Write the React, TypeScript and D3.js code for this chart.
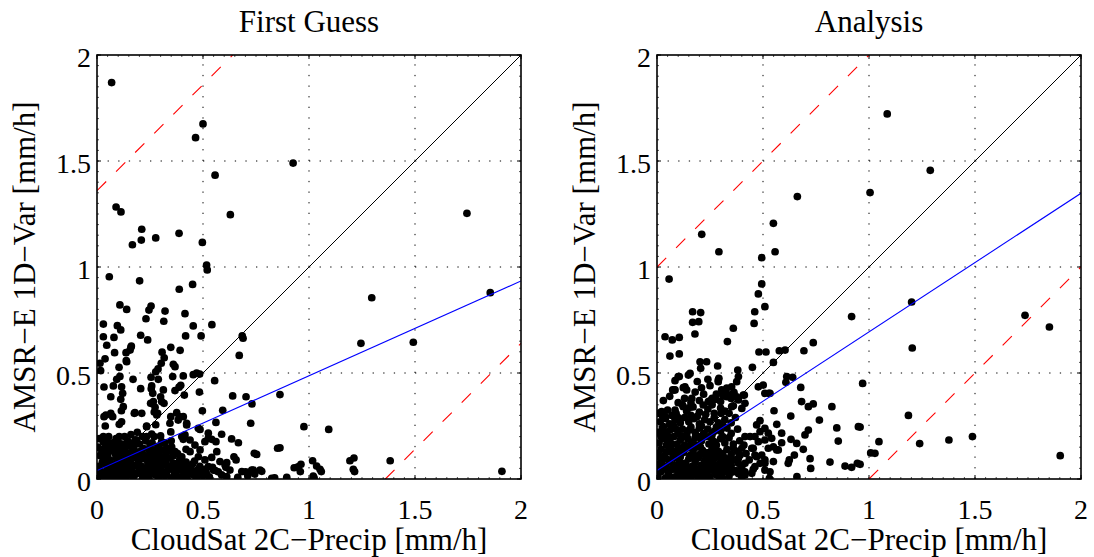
import React from "react";
import * as d3 from "d3";

type P = [number, number];

// ---- data ----
const panelTitles = ["First Guess", "Analysis"];
const xLabel = "CloudSat 2C\u2212Precip [mm/h]";
const yLabel = "AMSR\u2212E 1D\u2212Var [mm/h]";
const tickValues = [0, 0.5, 1, 1.5, 2];
const tickLabels = ["0", "0.5", "1", "1.5", "2"];

// regression lines [intercept, slope]
const fgFit: P = [0.04, 0.447];
const anFit: P = [0.04, 0.654];
// red dashed offsets (y = x ± band)
const fgBand = 1.36;
const anBand = 1.0;

const fgSparse: P[] = [
  [0.069,1.87],[0.50,1.675],[0.465,1.61],[0.925,1.49],[0.557,1.433],[0.09,1.283],[0.113,1.26],[0.629,1.247],
  [0.211,1.178],[0.387,1.159],[0.209,1.127],[0.277,1.137],[0.167,1.105],[0.497,1.116],[0.517,1.009],[0.520,0.986],
  [1.745,1.253],[1.855,0.879],[1.296,0.855],[1.245,0.64],[1.492,0.645],[0.976,0.247],[1.093,0.234],[0.962,0.069],
  [0.959,0.035],[1.017,0.086],[1.036,0.061],[1.052,0.046],[1.02,0.014],[1.193,0.086],[1.212,0.099],[1.209,0.046],
  [1.383,0.086],[1.91,0.036],[0.058,0.954],[0.201,0.935],[0.451,0.918],[0.388,0.895],[0.108,0.821],[0.14,0.80],
  [0.255,0.816],[0.245,0.797],[0.231,0.756],[0.321,0.792],[0.315,0.744],[0.415,0.78],[0.03,0.731],[0.096,0.723],
  [0.112,0.703],[0.454,0.722],[0.542,0.728],[0.03,0.671],[0.08,0.668],[0.206,0.678],[0.239,0.656],[0.418,0.675],
  [0.491,0.675],[0.685,0.675],[0.689,0.664],[0.046,0.631],[0.162,0.627],[0.156,0.608],[0.137,0.596],[0.348,0.621],
  [0.083,0.596],[0.307,0.598],[0.317,0.572],[0.392,0.607],[0.671,0.583],[0.038,0.567],[0.138,0.558],[0.36,0.541],
  [0.368,0.53],[0.014,0.546],[0.017,0.511],[0.303,0.546],[0.288,0.519],[0.277,0.506],[0.104,0.527],[0.108,0.484],
  [0.093,0.47],[0.077,0.439],[0.17,0.47],[0.255,0.48],[0.258,0.439],[0.289,0.47],[0.357,0.483],[0.407,0.486],
  [0.454,0.492],[0.47,0.499],[0.484,0.495],[0.555,0.464],[0.033,0.434],[0.116,0.435],[0.121,0.404],[0.112,0.376],
  [0.206,0.426],[0.256,0.426],[0.263,0.404],[0.313,0.42],[0.30,0.388],[0.305,0.365],[0.316,0.357],[0.368,0.417],
  [0.387,0.433],[0.395,0.442],[0.412,0.396],[0.483,0.41],[0.065,0.388],[0.64,0.392],[0.703,0.388],[0.731,0.354],
  [0.863,0.398],[0.253,0.357],[0.124,0.341],[0.115,0.322],[0.042,0.302],[0.065,0.31],[0.074,0.294],[0.033,0.294],
  [0.179,0.313],[0.211,0.31],[0.27,0.316],[0.282,0.302],[0.348,0.294],[0.376,0.313],[0.388,0.294],[0.497,0.322],
  [0.593,0.324],[0.561,0.267],[0.725,0.263],[0.039,0.25],[0.116,0.27],[0.105,0.258],[0.234,0.25],[0.277,0.256],
  [0.344,0.263],[0.423,0.263],[0.486,0.234],[0.03,0.2],[0.105,0.2],[0.234,0.2],[0.258,0.212],[0.30,0.203],
  [0.348,0.222],[0.407,0.187],[0.439,0.184],[0.525,0.216],[0.541,0.187],[0.561,0.176],[0.588,0.211],[0.635,0.189],
  [0.667,0.171],[0.852,0.145],[0.742,0.121],[0.646,0.105],[0.656,0.09],[0.93,0.053],[0.612,0.077],[0.608,0.055],
  [0.701,0.034],[0.737,0.042],[0.777,0.036],[0.824,0.003],[0.895,0.008],[0.627,0.042],[0.683,0.035],[0.714,0.03],
  [0.73,0.042],[0.769,0.042],[0.664,0.008],[0.4,0.2],[0.415,0.208],[0.462,0.16],[0.486,0.137],[0.509,0.176],
  [0.525,0.192],[0.439,0.129],[0.478,0.105],[0.509,0.09],[0.541,0.102],[0.565,0.129],[0.58,0.082],[0.604,0.066],
  [0.525,0.058],[0.549,0.042],[0.572,0.034],[0.588,0.019],[0.612,0.011],[0.383,0.278],[0.407,0.294],[0.423,0.255],
  [0.478,0.239],[0.274,0.338],[0.286,0.31],[0.266,0.365],[0.176,0.31],[0.234,0.247],[0.305,0.176],[0.03,0.176],
  [0.061,0.168],[0.022,0.137],[0.085,0.152],[0.108,0.16],[0.132,0.145],[0.164,0.168],[0.187,0.184],[0.218,0.145],
  [0.25,0.16],[0.274,0.137],[0.305,0.137],[0.328,0.145],[0.352,0.152],[0.368,0.129],[0.491,0.035],[0.558,0.04],
  [0.711,0.015],[0.744,0.023],[0.838,0.006],[0.753,0.116],[0.863,0.147],[0.948,0.057],[1.058,0.035],[1.024,0.006],
  [1.215,0.035],[0.16,0.621],[0.14,0.553],
];

const fgCluster: P[] = [
  [0.005,0.01],[0.02,0.03],[0.035,0.005],[0.05,0.02],[0.065,0.045],[0.08,0.01],[0.095,0.03],[0.11,0.005],
  [0.125,0.04],[0.14,0.015],[0.155,0.035],[0.17,0.005],[0.185,0.025],[0.2,0.045],[0.215,0.01],[0.23,0.03],
  [0.245,0.005],[0.26,0.04],[0.275,0.02],[0.29,0.005],[0.305,0.035],[0.32,0.015],[0.335,0.045],[0.35,0.005],
  [0.365,0.025],[0.38,0.04],[0.395,0.01],[0.41,0.03],[0.425,0.005],[0.44,0.045],[0.455,0.02],[0.47,0.005],
  [0.485,0.06],[0.5,0.015],[0.515,0.03],[0.53,0.01],[0.545,0.055],[0.01,0.06],[0.025,0.08],[0.045,0.065],
  [0.06,0.09],[0.075,0.07],[0.09,0.1],[0.105,0.075],[0.12,0.06],[0.135,0.09],[0.15,0.07],[0.165,0.1],
  [0.18,0.065],[0.195,0.085],[0.21,0.06],[0.225,0.095],[0.24,0.075],[0.255,0.06],[0.27,0.09],[0.285,0.07],
  [0.3,0.055],[0.315,0.085],[0.33,0.065],[0.345,0.1],[0.36,0.075],[0.375,0.06],[0.39,0.09],[0.405,0.065],
  [0.42,0.08],[0.44,0.06],[0.46,0.085],[0.015,0.11],[0.03,0.13],[0.05,0.115],[0.07,0.135],[0.085,0.12],
  [0.1,0.14],[0.115,0.115],[0.13,0.13],[0.145,0.11],[0.16,0.125],[0.175,0.14],[0.19,0.115],[0.205,0.13],
  [0.22,0.115],[0.235,0.1],[0.25,0.12],[0.265,0.105],[0.28,0.125],[0.295,0.11],[0.31,0.1],[0.325,0.12],
  [0.34,0.135],[0.36,0.11],[0.38,0.12],[0.005,0.15],[0.04,0.16],[0.075,0.17],[0.12,0.165],[0.145,0.18],
  [0.17,0.155],[0.2,0.165],[0.23,0.18],[0.26,0.17],[0.29,0.155],[0.32,0.17],[0.01,0.19],[0.055,0.2],
  [0.09,0.19],[0.13,0.2],[0.16,0.21],[0.19,0.22],[0.005,0.035],[0.045,0.04],[0.085,0.05],[0.165,0.05],
  [0.22,0.045],[0.28,0.05],[0.345,0.05],[0.4,0.048],[0.47,0.04],
  [0.012,0.045],[0.028,0.015],[0.058,0.005],[0.072,0.025],[0.1,0.055],[0.118,0.02],[0.132,0.065],[0.148,0.045],
  [0.178,0.02],[0.192,0.06],[0.208,0.03],[0.238,0.05],[0.252,0.025],[0.268,0.065],[0.298,0.03],[0.312,0.065],
  [0.328,0.03],[0.358,0.045],[0.372,0.01],[0.388,0.065],[0.418,0.05],[0.432,0.025],[0.45,0.07],[0.478,0.025],
  [0.508,0.045],[0.035,0.095],[0.055,0.145],[0.098,0.115],[0.11,0.09],[0.142,0.155],[0.158,0.09],[0.188,0.1],
  [0.212,0.095],[0.245,0.14],[0.262,0.08],[0.3,0.085],[0.33,0.095],[0.355,0.135],[0.4,0.105],[0.42,0.14],
  [0.04,0.185],[0.1,0.175],[0.18,0.185],[0.215,0.2],[0.27,0.2],[0.35,0.18],
];

const anSparse: P[] = [
  [0.211,1.154],[0.292,1.072],[0.494,1.044],[0.557,1.072],[0.549,1.206],[0.662,1.332],[1.005,1.351],[1.086,1.722],
  [1.289,1.456],[1.201,0.835],[1.204,0.618],[1.736,0.772],[1.851,0.717],[0.97,0.451],[1.186,0.3],[0.958,0.245],
  [1.047,0.176],[1.008,0.123],[1.028,0.121],[0.958,0.069],[1.239,0.167],[1.377,0.184],[1.488,0.2],[1.902,0.11],
  [0.057,0.943],[0.494,0.92],[0.478,0.873],[0.509,0.813],[0.461,0.789],[0.458,0.734],[0.168,0.789],[0.206,0.785],
  [0.168,0.739],[0.197,0.742],[0.179,0.684],[0.36,0.711],[0.332,0.648],[0.918,0.766],[0.038,0.671],[0.072,0.656],
  [0.105,0.668],[0.061,0.58],[0.105,0.59],[0.481,0.599],[0.514,0.599],[0.577,0.605],[0.604,0.608],[0.693,0.605],
  [0.737,0.643],[0.549,0.55],[0.203,0.553],[0.234,0.553],[0.206,0.522],[0.286,0.533],[0.381,0.514],[0.45,0.527],
  [0.156,0.498],[0.105,0.483],[0.085,0.464],[0.074,0.42],[0.292,0.475],[0.289,0.459],[0.384,0.483],[0.376,0.459],
  [0.64,0.48],[0.608,0.456],[0.124,0.431],[0.14,0.42],[0.329,0.429],[0.352,0.435],[0.363,0.409],[0.376,0.388],
  [0.412,0.396],[0.501,0.443],[0.678,0.432],[0.311,0.393],[0.527,0.404],[0.164,0.381],[0.25,0.369],[0.277,0.376],
  [0.682,0.365],[0.714,0.341],[0.737,0.354],[0.825,0.341],[0.022,0.318],[0.038,0.294],[0.085,0.325],[0.124,0.341],
  [0.156,0.338],[0.218,0.349],[0.242,0.365],[0.302,0.31],[0.4,0.333],[0.415,0.357],[0.552,0.322],[0.631,0.297],
  [0.766,0.278],[0.95,0.247],[0.848,0.241],[0.855,0.179],[0.565,0.258],[0.486,0.275],[0.47,0.255],[0.714,0.231],
  [0.698,0.208],[0.632,0.187],[0.659,0.168],[0.69,0.14],[0.648,0.113],[0.619,0.074],[0.624,0.09],[0.722,0.096],
  [0.725,0.05],[0.816,0.08],[0.887,0.061],[0.918,0.055],[0.945,0.074],[0.66,0.011],[0.549,0.082],[0.533,0.034],
  [0.53,0.003],[0.588,0.171],[0.565,0.137],[0.525,0.145],[0.509,0.184],[0.486,0.223],[0.439,0.2],[0.454,0.145],
  [0.435,0.09],[0.47,0.105],[0.509,0.074],[0.454,0.046],[0.415,0.034],[0.36,0.034],[0.384,0.074],[0.329,0.055],
  [0.31,0.003],[0.392,0.113],[0.588,0.216],[0.509,0.239],[0.525,0.216],[0.541,0.192],[0.549,0.152],[0.572,0.137],
  [0.462,0.2],[0.478,0.176],[0.447,0.145],[0.462,0.113],[0.494,0.113],[0.509,0.09],[0.486,0.074],[0.462,0.058],
  [0.509,0.042],[0.415,0.2],[0.4,0.145],[0.384,0.098],[0.415,0.074],[0.392,0.042],[0.415,0.019],[0.447,0.027],
  [0.352,0.341],[0.384,0.373],[0.407,0.396],[0.478,0.435],[0.509,0.404],[0.533,0.404],[0.612,0.483],[0.289,0.467],
  [0.305,0.42],[0.329,0.388],[0.36,0.404],[0.148,0.49],[0.1,0.483],[0.085,0.42],[0.132,0.435],[0.014,0.31],
  [0.03,0.247],[0.053,0.2],
];

const anCluster: P[] = [
  [0.005,0.01],[0.02,0.035],[0.04,0.005],[0.055,0.025],[0.07,0.045],[0.085,0.01],[0.1,0.03],[0.115,0.005],
  [0.13,0.04],[0.145,0.02],[0.16,0.005],[0.175,0.035],[0.19,0.015],[0.205,0.045],[0.22,0.005],[0.235,0.03],
  [0.25,0.01],[0.265,0.04],[0.28,0.02],[0.295,0.005],[0.31,0.035],[0.34,0.015],[0.37,0.04],[0.4,0.01],
  [0.01,0.07],[0.025,0.09],[0.04,0.06],[0.06,0.08],[0.075,0.1],[0.09,0.065],[0.105,0.085],[0.12,0.055],
  [0.135,0.075],[0.15,0.095],[0.165,0.06],[0.18,0.08],[0.195,0.1],[0.21,0.065],[0.225,0.085],[0.24,0.055],
  [0.255,0.075],[0.27,0.095],[0.285,0.06],[0.3,0.08],[0.32,0.1],[0.35,0.065],[0.37,0.09],[0.4,0.06],
  [0.005,0.12],[0.02,0.14],[0.035,0.11],[0.05,0.13],[0.065,0.15],[0.08,0.115],[0.095,0.135],[0.11,0.105],
  [0.125,0.125],[0.14,0.145],[0.155,0.11],[0.17,0.13],[0.185,0.15],[0.2,0.115],[0.215,0.135],[0.23,0.105],
  [0.245,0.125],[0.26,0.145],[0.275,0.11],[0.29,0.13],[0.31,0.12],[0.33,0.14],[0.35,0.115],[0.38,0.13],
  [0.42,0.12],[0.01,0.17],[0.03,0.19],[0.045,0.16],[0.06,0.18],[0.08,0.2],[0.095,0.165],[0.11,0.185],
  [0.13,0.16],[0.145,0.19],[0.16,0.17],[0.18,0.195],[0.195,0.16],[0.21,0.18],[0.23,0.2],[0.245,0.165],
  [0.26,0.185],[0.28,0.16],[0.3,0.19],[0.32,0.17],[0.34,0.195],[0.36,0.165],[0.39,0.18],[0.41,0.16],
  [0.005,0.22],[0.025,0.24],[0.04,0.21],[0.06,0.23],[0.08,0.25],[0.1,0.215],[0.12,0.235],[0.14,0.21],
  [0.16,0.245],[0.18,0.22],[0.2,0.24],[0.22,0.215],[0.24,0.235],[0.26,0.21],[0.28,0.245],[0.3,0.225],
  [0.33,0.24],[0.35,0.215],[0.38,0.235],[0.015,0.27],[0.04,0.285],[0.06,0.26],[0.085,0.28],[0.11,0.265],
  [0.13,0.29],[0.15,0.27],[0.175,0.285],[0.2,0.26],[0.225,0.28],[0.25,0.27],[0.27,0.29],[0.29,0.265],
  [0.32,0.28],[0.35,0.265],[0.37,0.29],[0.01,0.31],[0.05,0.325],[0.09,0.31],[0.14,0.32],[0.17,0.34],
  [0.2,0.315],[0.24,0.33],[0.27,0.31],[0.3,0.335],[0.34,0.31],[0.36,0.345],[0.03,0.37],[0.06,0.39],
  [0.1,0.36],[0.13,0.38],[0.2,0.37],[0.22,0.4],[0.26,0.38],[0.3,0.365],[0.33,0.4],[0.21,0.43],
  [0.25,0.44],[0.18,0.41],[0.08,0.42],
  [0.012,0.045],[0.03,0.06],[0.048,0.045],[0.065,0.005],[0.078,0.065],[0.092,0.045],[0.108,0.06],[0.122,0.025],
  [0.138,0.005],[0.152,0.05],[0.168,0.025],[0.182,0.05],[0.198,0.025],[0.212,0.03],[0.228,0.06],[0.242,0.005],
  [0.258,0.045],[0.272,0.065],[0.29,0.035],[0.305,0.06],[0.325,0.035],[0.33,0.075],[0.355,0.035],[0.385,0.025],
  [0.015,0.1],[0.045,0.095],[0.07,0.125],[0.1,0.11],[0.118,0.145],[0.16,0.15],[0.178,0.105],[0.205,0.15],
  [0.225,0.125],[0.25,0.1],[0.27,0.135],[0.3,0.105],[0.34,0.09],[0.36,0.145],[0.02,0.2],[0.05,0.195],
  [0.07,0.165],[0.12,0.2],[0.17,0.175],[0.2,0.2],[0.25,0.2],[0.27,0.175],[0.31,0.2],[0.03,0.225],
  [0.09,0.235],[0.15,0.23],[0.21,0.25],[0.27,0.225],[0.31,0.255],[0.025,0.3],[0.07,0.3],[0.1,0.29],
  [0.16,0.3],[0.19,0.295],[0.23,0.305],[0.26,0.35],[0.32,0.32],[0.12,0.35],[0.16,0.36],[0.28,0.4],
  [0.35,0.38],[0.24,0.47],[0.19,0.46],
];

const fgPoints: P[] = [...fgSparse, ...fgCluster];
const anPoints: P[] = [...anSparse, ...anCluster];

// ---- layout ----
const W = 1094;
const H = 557;
const panelLefts = [97, 657];
const plotTop = 55;
const plotBottom = 479;
const plotW = 424;
const serif = "'Liberation Serif', 'Times New Roman', serif";

function Panel({ idx, points, fit, band }: { idx: number; points: P[]; fit: P; band: number }) {
  const left = panelLefts[idx];
  const x = d3.scaleLinear().domain([0, 2]).range([left, left + plotW]);
  const y = d3.scaleLinear().domain([0, 2]).range([plotBottom, plotTop]);
  const line = d3.line<P>().x((d) => x(d[0])).y((d) => y(d[1]));
  const clipId = `clip${idx}`;
  const minor = d3.range(0, 2.0001, 0.05);
  const cx = (left + left + plotW) / 2;
  const cy = (plotTop + plotBottom) / 2;
  return (
    <g>
      <defs>
        <clipPath id={clipId}>
          <rect x={x(0)} y={y(2)} width={x(2) - x(0)} height={y(0) - y(2)} />
        </clipPath>
      </defs>
      {/* grid */}
      {tickValues.slice(1, -1).map((t) => (
        <g key={"g" + t}>
          <line x1={x(t)} x2={x(t)} y1={y(0)} y2={y(2)} stroke="#000" strokeWidth={1} strokeDasharray="1.3 9.3" />
          <line x1={x(0)} x2={x(2)} y1={y(t)} y2={y(t)} stroke="#000" strokeWidth={1} strokeDasharray="1.3 9.3" />
        </g>
      ))}
      {/* small border marks */}
      {minor.map((m, i) => (
        <g key={"m" + i} stroke="#555" strokeWidth={1}>
          <line x1={x(m)} x2={x(m)} y1={y(0)} y2={y(0) - 2} />
          <line x1={x(m)} x2={x(m)} y1={y(2)} y2={y(2) + 2} />
          <line x1={x(0)} x2={x(0) + 2} y1={y(m)} y2={y(m)} />
          <line x1={x(2)} x2={x(2) - 2} y1={y(m)} y2={y(m)} />
        </g>
      ))}
      {/* major ticks */}
      {tickValues.map((t) => (
        <g key={"t" + t} stroke="#000" strokeWidth={1}>
          <line x1={x(t)} x2={x(t)} y1={y(0)} y2={y(0) - 4} />
          <line x1={x(t)} x2={x(t)} y1={y(2)} y2={y(2) + 4} />
          <line x1={x(0)} x2={x(0) + 4} y1={y(t)} y2={y(t)} />
          <line x1={x(2)} x2={x(2) - 4} y1={y(t)} y2={y(t)} />
        </g>
      ))}
      <g clipPath={`url(#${clipId})`}>
        {points.map((p, i) => (
          <circle key={i} cx={x(p[0])} cy={y(p[1])} r={3.85} fill="#000" />
        ))}
        <path d={line([[0, 0], [2, 2]]) || ""} stroke="#000" strokeWidth={1} fill="none" />
        <path d={line([[0, fit[0]], [2, fit[0] + 2 * fit[1]]]) || ""} stroke="#0000ff" strokeWidth={1.1} fill="none" />
        <path d={line([[0, band], [2 - band, 2]]) || ""} stroke="#ff0000" strokeWidth={1.1} fill="none" strokeDasharray="13 14" />
        <path d={line([[band, 0], [2, 2 - band]]) || ""} stroke="#ff0000" strokeWidth={1.1} fill="none" strokeDasharray="13 14" />
      </g>
      <rect x={x(0)} y={y(2)} width={x(2) - x(0)} height={y(0) - y(2)} fill="none" stroke="#000" strokeWidth={1.6} />
      {/* tick labels */}
      {tickValues.map((t, i) => (
        <text key={"xl" + t} x={x(t)} y={519} textAnchor="middle" fontFamily={serif} fontSize={28} fill="#000">
          {tickLabels[i]}
        </text>
      ))}
      {tickValues.map((t, i) => (
        <text key={"yl" + t} x={left - 6} y={y(t) + 12} textAnchor="end" fontFamily={serif} fontSize={28} fill="#000">
          {tickLabels[i]}
        </text>
      ))}
      <text x={cx} y={32} textAnchor="middle" fontFamily={serif} fontSize={31} fill="#000">
        {panelTitles[idx]}
      </text>
      <text x={cx} y={550} textAnchor="middle" fontFamily={serif} fontSize={31} fill="#000">
        {xLabel}
      </text>
      <text
        transform={`translate(${left - 62},${cy}) rotate(-90)`}
        textAnchor="middle"
        fontFamily={serif}
        fontSize={31}
        fill="#000"
      >
        {yLabel}
      </text>
    </g>
  );
}

export default function App() {
  return (
    <svg width={W} height={H} style={{ position: "absolute", left: 0, top: 0, background: "#fff" }}>
      <rect width={W} height={H} fill="#fff" />
      <Panel idx={0} points={fgPoints} fit={fgFit} band={fgBand} />
      <Panel idx={1} points={anPoints} fit={anFit} band={anBand} />
    </svg>
  );
}
